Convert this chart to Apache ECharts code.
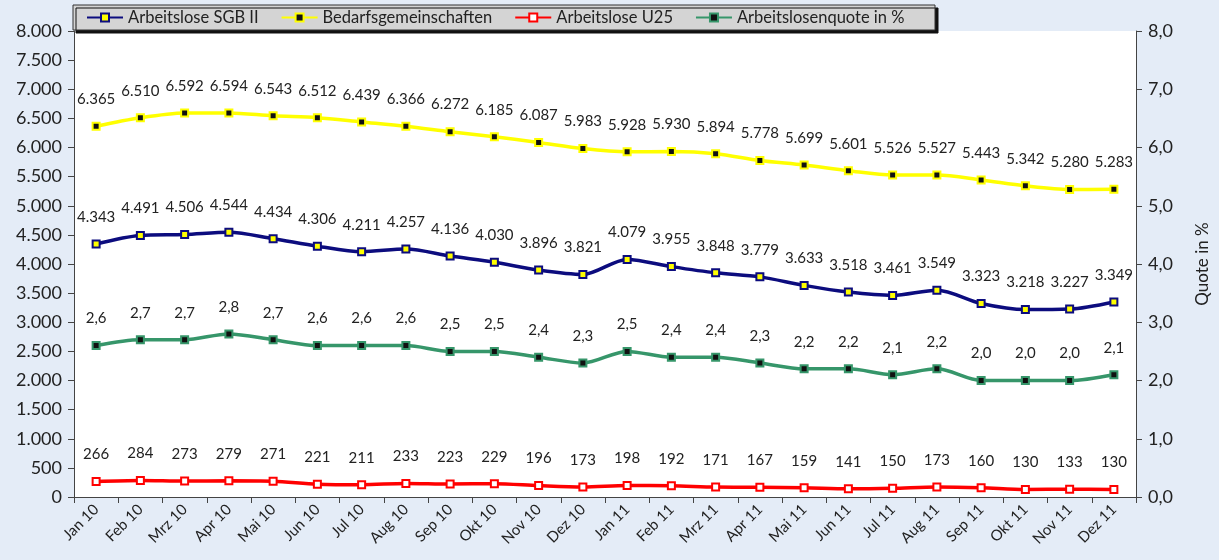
<!DOCTYPE html>
<html lang="de">
<head>
<meta charset="UTF-8">
<title>Arbeitslose</title>
<script src="https://cdn.jsdelivr.net/npm/echarts@6/dist/echarts.min.js"></script>
<style>
  html, body { margin: 0; padding: 0; background: #e4ecf7; }
  #main { width: 1219px; height: 560px; }
</style>
</head>
<body>
<div id="main"></div>
<script>
var months = ["Jan 10","Feb 10","Mrz 10","Apr 10","Mai 10","Jun 10","Jul 10","Aug 10","Sep 10","Okt 10","Nov 10","Dez 10",
              "Jan 11","Feb 11","Mrz 11","Apr 11","Mai 11","Jun 11","Jul 11","Aug 11","Sep 11","Okt 11","Nov 11","Dez 11"];
var sgb2 = [4343,4491,4506,4544,4434,4306,4211,4257,4136,4030,3896,3821,4079,3955,3848,3779,3633,3518,3461,3549,3323,3218,3227,3349];
var bedarf = [6365,6510,6592,6594,6543,6512,6439,6366,6272,6185,6087,5983,5928,5930,5894,5778,5699,5601,5526,5527,5443,5342,5280,5283];
var u25 = [266,284,273,279,271,221,211,233,223,229,196,173,198,192,171,167,159,141,150,173,160,130,133,130];
var quote = [2.6,2.7,2.7,2.8,2.7,2.6,2.6,2.6,2.5,2.5,2.4,2.3,2.5,2.4,2.4,2.3,2.2,2.2,2.1,2.2,2.0,2.0,2.0,2.1];

var FONT = "Lato";

function thousands(v) {
    return String(v).replace(/\B(?=(\d{3})+(?!\d))/g, ".");
}
function comma1(v) {
    return v.toFixed(1).replace(".", ",");
}

function makeSeries(name, data, lineColor, fill, axisIndex, fmt) {
    return {
        name: name,
        type: "line",
        yAxisIndex: axisIndex,
        data: data,
        smooth: 0.3,
        symbol: "rect",
        symbolSize: 7,
        lineStyle: { color: lineColor, width: 3.5 },
        itemStyle: { color: fill, borderColor: lineColor, borderWidth: 2 },
        label: {
            show: true,
            position: "top",
            distance: 15,
            color: "#222",
            fontFamily: FONT,
            fontSize: 15,
            formatter: function (p) { return fmt(p.value); }
        }
    };
}

var chart = echarts.init(document.getElementById("main"));
chart.setOption({
    animation: false,
    backgroundColor: "#e4ecf7",
    textStyle: { fontFamily: FONT },
    grid: { left: 74, right: 80, top: 31, bottom: 63, show: true, backgroundColor: "#fff", borderWidth: 0 },
    graphic: [{
        type: "rect",
        z: 5,
        shape: { x: 73, y: 5, width: 862, height: 25 },
        style: { fill: "#d4d4d4", stroke: "#333", lineWidth: 1, shadowColor: "#111", shadowOffsetX: 3, shadowOffsetY: 3 }
    }],
    legend: {
        z: 10,
        left: 86, top: 9,
        padding: 0,
        itemGap: 22,
        itemWidth: 36, itemHeight: 10,
        textStyle: { fontFamily: FONT, fontSize: 16.5, color: "#222" },
        data: ["Arbeitslose SGB II", "Bedarfsgemeinschaften", "Arbeitslose U25", "Arbeitslosenquote in %"]
    },
    xAxis: {
        type: "category",
        data: months,
        boundaryGap: true,
        axisLine: { lineStyle: { color: "#444", width: 1 } },
        axisTick: { show: true, length: 6, lineStyle: { color: "#444" } },
        axisLabel: { rotate: 45, fontSize: 15, color: "#222", fontFamily: FONT, margin: 10, interval: 0 }
    },
    yAxis: [{
        type: "value",
        min: 0, max: 8000, interval: 500,
        splitLine: { show: false },
        axisLine: { show: true, lineStyle: { color: "#444" } },
        axisTick: { show: true, length: 6, lineStyle: { color: "#444" } },
        axisLabel: { fontSize: 18, color: "#222", fontFamily: FONT, margin: 12, formatter: thousands }
    }, {
        type: "value",
        min: 0, max: 8, interval: 1,
        position: "right",
        splitLine: { show: false },
        name: "Quote in %",
        nameLocation: "middle",
        nameRotate: 90,
        nameGap: 58,
        nameTextStyle: { fontSize: 17, color: "#222", fontFamily: FONT },
        axisLine: { show: true, lineStyle: { color: "#444" } },
        axisTick: { show: true, length: 6, inside: false, lineStyle: { color: "#444" } },
        axisLabel: { fontSize: 18, color: "#222", fontFamily: FONT, margin: 12, formatter: function (v) { return comma1(v); } }
    }],
    series: [
        makeSeries("Arbeitslose SGB II", sgb2, "#0c0c7e", "#ffff00", 0, thousands),
        makeSeries("Bedarfsgemeinschaften", bedarf, "#ffff00", "#111", 0, thousands),
        makeSeries("Arbeitslose U25", u25, "#ff0000", "#fff", 0, function (v) { return String(v); }),
        makeSeries("Arbeitslosenquote in %", quote, "#36966a", "#111", 1, comma1)
    ]
});
</script>
</body>
</html>
